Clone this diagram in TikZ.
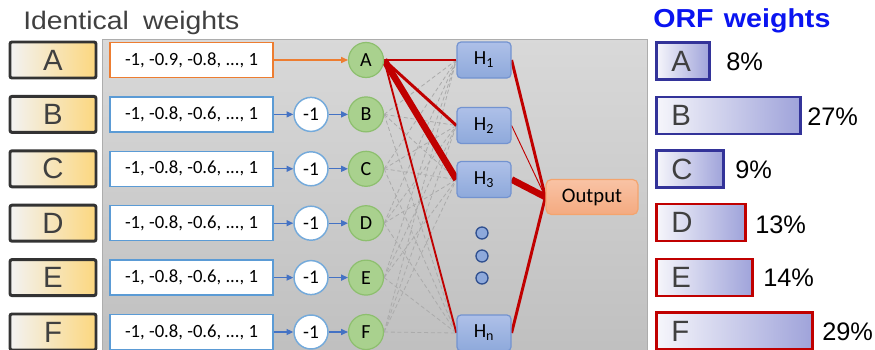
\documentclass[tikz,border=0pt]{standalone}
\usepackage{fontspec}
\usepackage{graphicx}
\setmainfont{Liberation Sans}
\newfontfamily\calib{Carlito}
\usetikzlibrary{arrows.meta}
\pgfdeclarelayer{bg}\pgfdeclarelayer{edges}
\pgfsetlayers{bg,edges,main}
\definecolor{dred}{HTML}{C00000}
\definecolor{lboxline}{HTML}{333333}
\definecolor{goldr}{HTML}{FCD77F}
\definecolor{orline}{HTML}{ED7D31}
\definecolor{blline}{HTML}{5B9BD5}
\definecolor{blarrow}{HTML}{4472C4}
\definecolor{grfill}{HTML}{A9D18E}
\definecolor{grline}{HTML}{8DBF6E}
\definecolor{htop}{HTML}{AEC0E8}
\definecolor{hbot}{HTML}{8EA9DB}
\definecolor{hline}{HTML}{7393D0}
\definecolor{otop}{HTML}{F9C3A5}
\definecolor{obot}{HTML}{F4AA80}
\definecolor{oline}{HTML}{F4A46E}
\definecolor{dotline}{HTML}{2F4F8F}
\definecolor{navyb}{HTML}{333399}
\definecolor{barr}{HTML}{9FA3DA}
\definecolor{barl}{HTML}{F6F6FB}
\definecolor{txtgray}{HTML}{404040}
\definecolor{orfblue}{HTML}{0A14F0}
\definecolor{dashc}{HTML}{ABABAB}
\begin{document}
\begin{tikzpicture}[x=0.75pt,y=-0.75pt,
  lbox/.style={draw=lboxline, line width=2.2pt, rounded corners=1.5pt,
    left color=white!95!black, right color=goldr, shading angle=90,
    minimum width=86*0.75pt, minimum height=36*0.75pt, inner sep=0pt,
    font=\fontsize{22}{22}\selectfont, text=txtgray},
  vbox/.style={draw=#1, line width=1.1pt, fill=white,
    minimum width=163*0.75pt, minimum height=35*0.75pt, inner sep=0pt,
    font=\calib\fontsize{14}{14}\selectfont},
  neg/.style={circle, draw=blline!85!white, line width=1.1pt, fill=white,
    minimum size=34*0.75pt, inner sep=0pt, font=\calib\fontsize{14.5}{15}\selectfont},
  inp/.style={circle, draw=grline, line width=0.9pt, fill=grfill,
    minimum size=35*0.75pt, inner sep=0pt, font=\calib\fontsize{15}{15}\selectfont},
  hid/.style={draw=hline, line width=0.9pt, rounded corners=3pt, top color=htop, bottom color=hbot,
    minimum width=54*0.75pt, minimum height=36*0.75pt, inner sep=0pt,
    font=\calib\fontsize{15}{15}\selectfont},
  outn/.style={draw=oline, line width=0.9pt, rounded corners=4pt, top color=otop, bottom color=obot,
    minimum width=92*0.75pt, minimum height=35*0.75pt, inner sep=0pt,
    font=\calib\fontsize{15.5}{15}\selectfont},
  dotc/.style={circle, draw=dotline, line width=1pt, fill=hbot, minimum size=12*0.75pt, inner sep=0pt},
  bar/.style={anchor=west, line width=2.2pt, left color=barl, right color=barr, shading angle=90,
    minimum height=37*0.75pt, inner ysep=0pt, inner xsep=11.25pt, align=left,
    text width=#1*0.75pt-22.5pt, font=\fontsize{22}{22}\selectfont, text=txtgray},
  pct/.style={anchor=west, inner sep=0pt, font=\fontsize{19}{19}\selectfont},
  darr/.style={-{Triangle[length=5pt,width=4.5pt]}, line width=0.8pt},
  dashl/.style={draw=dashc, dashed, dash pattern=on 3pt off 2pt, line width=0.6pt},
  redl/.style={draw=dred, line width=#1}
]
\useasboundingbox (0,0) rectangle (875,350);
\clip (0,0) rectangle (875,350);

% titles
\node[anchor=base west, inner sep=0pt, text=txtgray, font=\fontsize{19}{22}\selectfont] (t1) at (23,29) {\scalebox{1.12}[1]{Identical\hspace{0.5em}weights}};
\node[anchor=base west, inner sep=0pt, text=orfblue, font=\bfseries\fontsize{19.5}{22}\selectfont] (t2) at (653,27) {\scalebox{1.1}[1]{ORF\hspace{0.36em}weights}};

% left boxes
\node[lbox] (LA) at (53,60) {A};
\node[lbox] (LB) at (53,114.4) {B};
\node[lbox] (LC) at (53,168.8) {C};
\node[lbox] (LD) at (53,223.2) {D};
\node[lbox] (LE) at (53,277.6) {E};
\node[lbox] (LF) at (53,332) {F};

% value boxes
\node[vbox=orline] (VA) at (191.5,60) {-1, -0.9, -0.8, ..., 1};
\node[vbox=blline] (VB) at (191.5,114.4) {-1, -0.8, -0.6, ..., 1};
\node[vbox=blline] (VC) at (191.5,168.8) {-1, -0.8, -0.6, ..., 1};
\node[vbox=blline] (VD) at (191.5,223.2) {-1, -0.8, -0.6, ..., 1};
\node[vbox=blline] (VE) at (191.5,277.6) {-1, -0.8, -0.6, ..., 1};
\node[vbox=blline] (VF) at (191.5,332) {-1, -0.8, -0.6, ..., 1};

% -1 circles
\node[neg] (NB) at (311,114.4) {-1};
\node[neg] (NC) at (311,168.8) {-1};
\node[neg] (ND) at (311,223.2) {-1};
\node[neg] (NE) at (311,277.6) {-1};
\node[neg] (NF) at (311,332) {-1};

% input circles
\node[inp] (IA) at (366,60) {A};
\node[inp] (IB) at (366,114.4) {B};
\node[inp] (IC) at (366,168.8) {C};
\node[inp] (ID) at (366,223.2) {D};
\node[inp] (IE) at (366,277.6) {E};
\node[inp] (IF) at (366,332) {F};

% hidden
\node[hid] (H1) at (484,60) {H\textsubscript{1}};
\node[hid] (H2) at (484,125.5) {H\textsubscript{2}};
\node[hid] (H3) at (484,179.5) {H\textsubscript{3}};
\node[hid] (Hn) at (484,333) {H\textsubscript{n}};
\node[dotc] (d1) at (482,233) {};
\node[dotc] (d2) at (482,256) {};
\node[dotc] (d3) at (482,278) {};

\node[outn] (O) at (592,197) {Output};

% bars
\node[bar=53, draw=navyb] (RA) at (655,61) {A};
\node[bar=144, draw=navyb] (RB) at (655,115.5) {B};
\node[bar=67, draw=navyb] (RC) at (655,169) {C};
\node[bar=89, draw=dred] (RD) at (655,222.5) {D};
\node[bar=96, draw=dred] (RE) at (655,277.5) {E};
\node[bar=156, draw=dred] (RF) at (655,331) {F};

\node[pct] (PA) at (726,62) {8\%};
\node[pct] (PB) at (807,117) {27\%};
\node[pct] (PC) at (735,170) {9\%};
\node[pct] (PD) at (755,225) {13\%};
\node[pct] (PE) at (763,278) {14\%};
\node[pct] (PF) at (822,332) {29\%};

% arrows
\draw[darr, orline] (VA) -- (IA);
\foreach \r in {B,C,D,E,F}{
  \draw[darr, blarrow] (V\r) -- (N\r);
  \draw[darr, blarrow] (N\r) -- (I\r);
}

\begin{pgfonlayer}{bg}
  \fill[top color=black!15, bottom color=black!25, draw=black!32, line width=0.6pt]
    (102,39) rectangle (647,356);
\end{pgfonlayer}

\begin{pgfonlayer}{edges}
  \foreach \s in {IB,IC,ID,IE,IF}
    \foreach \t in {H1,H2,H3,Hn}
      \draw[dashl] (\s.east) -- (\t.west);
  \draw[redl=1pt] (IA.east) -- (H1.west);
  \draw[redl=2.2pt] (IA.east) -- (H2.west);
  \draw[redl=5pt] (IA.east) -- (H3.west);
  \draw[redl=1.4pt] (IA.east) -- (Hn.west);
  \draw[redl=2.2pt] (H1.east) -- (O.west);
  \draw[redl=0.7pt] (H2.east) -- (O.west);
  \draw[redl=5pt] (H3.east) -- (O.west);
  \draw[redl=2.2pt] (Hn.east) -- (O.west);
\end{pgfonlayer}
\end{tikzpicture}
\end{document}
